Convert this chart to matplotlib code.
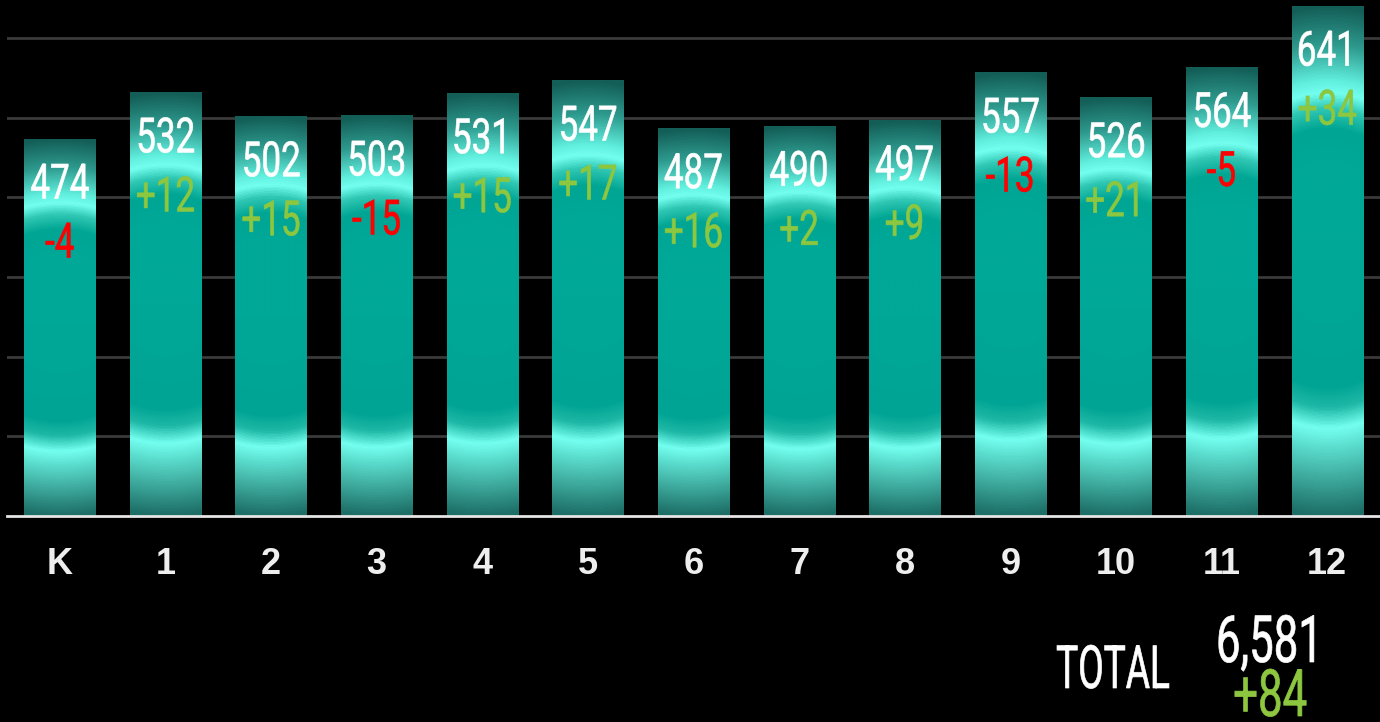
import numpy as np
import matplotlib
matplotlib.use('Agg')
import matplotlib.pyplot as plt
from matplotlib.colors import LinearSegmentedColormap, to_rgb
from matplotlib.patheffects import AbstractPathEffect
from matplotlib.transforms import Affine2D

# Data
categories = ['K', '1', '2', '3', '4', '5', '6', '7', '8', '9', '10', '11', '12']
enrollment = [474, 532, 502, 503, 531, 547, 487, 490, 497, 557, 526, 564, 641]
change = [-4, 12, 15, -15, 15, 17, 16, 2, 9, -13, 21, -5, 34]
total_label = '6,581'
total_change = 84

GREEN = '#8dc63f'
RED = '#ff0000'
LABEL_FONT = ['Roboto', 'DejaVu Sans']


class Condense(AbstractPathEffect):
    """squeeze the glyphs horizontally around their centre (no narrow font installed),
    with a thin outline in the text colour to thicken the strokes a bit"""
    def __init__(self, sx, lw=0.45):
        super().__init__()
        self.sx = sx
        self.lw = lw

    def draw_path(self, renderer, gc, tpath, affine, rgbFace=None):
        ext = tpath.get_extents()
        cx = (ext.x0 + ext.x1) / 2
        t = Affine2D().translate(-cx, 0).scale(self.sx, 1).translate(cx, 0) + affine
        gc0 = renderer.new_gc()
        gc0.copy_properties(gc)
        gc0.set_foreground(rgbFace)
        gc0.set_linewidth(self.lw)
        renderer.draw_path(gc0, tpath, t, rgbFace)
        gc0.restore()


# gradient stops along the signed radial distance (-1 = top edge, +1 = bottom edge)
stops = [(-1.00, '#135e57'), (-0.85, '#2e9a8e'), (-0.71, '#60eedd'), (-0.66, '#74fff0'),
         (-0.60, '#30c8b4'), (-0.52, '#00a593'), (-0.40, '#00a898'), (0.00, '#00a898'),
         (0.50, '#00a494'), (0.58, '#1fb8a6'), (0.66, '#74fff0'), (0.74, '#5adccc'),
         (1.00, '#1d6f67')]
cmap = LinearSegmentedColormap.from_list(
    'barglow', [((s + 1) / 2, to_rgb(c)) for s, c in stops])

ny, nx = 400, 60
yy, xx = np.mgrid[-1:1:ny * 1j, -1:1:nx * 1j]
r = np.clip(np.sqrt(yy ** 2 + (0.18 * xx) ** 2), 0, 1)
grad_img = cmap((np.sign(yy) * r + 1) / 2)

fig = plt.figure(figsize=(13.8, 7.22), dpi=100, facecolor='black')
ax = fig.add_axes([7 / 1380, 206 / 722, 1373 / 1380, 516 / 722])
ax.set_facecolor('black')

x = np.arange(len(categories))
bars = ax.bar(x, enrollment, width=0.674, color='none', edgecolor='none', zorder=2)
for b in bars:
    x0, h = b.get_x(), b.get_height()
    im = ax.imshow(grad_img, extent=[x0, x0 + b.get_width(), 0, h],
                   aspect='auto', origin='upper', zorder=2, interpolation='bilinear')
    im.set_clip_path(b)

ax.set_xlim(-0.5, len(categories) - 0.5)
ax.set_ylim(0, 648)

ax.set_yticks([100, 200, 300, 400, 500, 600])
ax.yaxis.grid(True, color='#3a3a3a', linewidth=2)
ax.set_axisbelow(True)
ax.tick_params(axis='y', left=False, labelleft=False)
for s in ['top', 'right', 'left']:
    ax.spines[s].set_visible(False)
ax.spines['bottom'].set_color('#e6e6e6')
ax.spines['bottom'].set_linewidth(2)
ax.spines['bottom'].set_zorder(3)

ax.set_xticks(x)
ax.set_xticklabels(categories, fontsize=26, fontweight='bold', color='#eeeeee',
                   family=['Liberation Sans', 'DejaVu Sans'])
ax.tick_params(axis='x', bottom=False, length=0, pad=22)

num_fx = [Condense(0.72)]
for xi, v, d in zip(x, enrollment, change):
    ax.annotate(str(v), (xi, v), xytext=(0, -60 * 0.72), textcoords='offset points',
                ha='center', va='baseline', color='white', fontsize=35,
                family=LABEL_FONT, path_effects=num_fx, zorder=4)
    ax.annotate(f'{d:+d}', (xi, v), xytext=(0, -119 * 0.72), textcoords='offset points',
                ha='center', va='baseline', color=GREEN if d > 0 else RED,
                fontsize=35, family=LABEL_FONT, path_effects=num_fx, zorder=4)

fig.text(1113 / 1380, 1 - 688 / 722, 'TOTAL', ha='center', va='baseline',
         color='white', fontsize=43, family=LABEL_FONT,
         path_effects=[Condense(0.62, 0.5)])
fig.text(1271 / 1380, 1 - 662 / 722, total_label, ha='center', va='baseline',
         color='white', fontsize=47, family=LABEL_FONT,
         path_effects=[Condense(0.67, 0.5)])
fig.text(1270 / 1380, 1 - 716 / 722, f'{total_change:+d}', ha='center', va='baseline',
         color=GREEN, fontsize=47, family=LABEL_FONT,
         path_effects=[Condense(0.67, 0.5)])

fig.savefig('out.png', dpi=100, facecolor='black')
